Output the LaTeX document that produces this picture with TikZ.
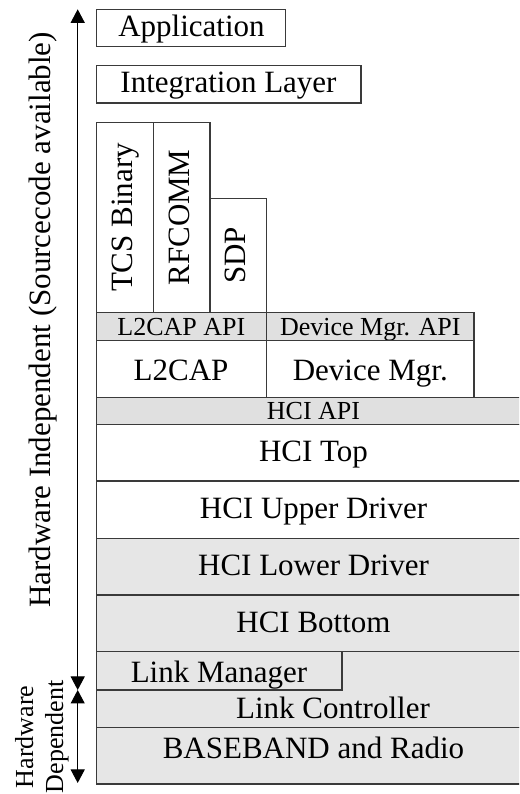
\documentclass[tikz,border=0pt]{standalone}
\usepackage{fontspec}
\setmainfont{Liberation Serif}
\usetikzlibrary{arrows.meta}

\definecolor{edge}{HTML}{3A3A3A}
\definecolor{hwgrey}{HTML}{E6E6E6}
\definecolor{apigrey}{HTML}{E0E0E0}

\tikzset{
  layer/.style={draw=edge, line width=1.3pt, fill=white},
  hwlayer/.style={layer, fill=hwgrey},
  apilayer/.style={layer, fill=apigrey},
  bigtxt/.style={font=\fontsize{31}{37}\selectfont, text height=20.5pt, text depth=0pt, inner sep=0pt},
  smalltxt/.style={font=\fontsize{26}{31}\selectfont, text height=17.2pt, text depth=0pt, inner sep=0pt},
  span/.style={line width=1pt, {Triangle[length=13.5pt,width=14pt]}-{Triangle[length=13.5pt,width=14pt]}}
}

\begin{document}
\begin{tikzpicture}[x=1pt,y=1pt]
\useasboundingbox (0,0) rectangle (519,794);
\clip (0,0) rectangle (519,794);

% upper application layers
\draw[layer] (96.5,747.3) rectangle (285.5,784.7);
\node[bigtxt] (app) at (191.5,768.2) {Application};
\draw[layer] (96.5,691) rectangle (361,728.3);
\node[bigtxt] (integ) at (228.5,711.5) {Integration Layer};

% protocol columns
\draw[layer] (96.5,481.3) rectangle (153.3,671.7);
\node[bigtxt, rotate=90] (tcs) at (122.5,576.5) {TCS Binary};
\draw[layer] (153.3,481.3) rectangle (210,671.7);
\node[bigtxt, rotate=90] (rfcomm) at (179.5,576.5) {RFCOMM};
\draw[layer] (210,481.3) rectangle (266.7,595.7);
\node[bigtxt, rotate=90] (sdp) at (235,538.5) {SDP};

% L2CAP and device manager
\draw[apilayer] (96.5,453.3) rectangle (266.7,481.3);
\node[smalltxt] (l2capapi) at (181.3,467.3) {L2CAP API};
\draw[apilayer] (266.7,453.3) rectangle (474,481.3);
\node[smalltxt] (devapi) at (370.3,467.3) {Device Mgr. API};
\draw[layer] (96.5,396.7) rectangle (266.7,453.3);
\node[bigtxt] (l2cap) at (181,423.8) {L2CAP};
\draw[layer] (266.7,396.7) rectangle (474,453.3);
\node[bigtxt] (devmgr) at (370.3,423.8) {Device Mgr.};

% host controller interface stack
\draw[apilayer] (96.5,369.5) rectangle (531,396.7);
\node[smalltxt] (hciapi) at (313.5,382.7) {HCI API};
\draw[layer] (96.5,313) rectangle (531,369.5);
\node[bigtxt] (hcitop) at (313.5,342.5) {HCI Top};
\draw[layer] (96.5,255.7) rectangle (531,313);
\node[bigtxt] (hciup) at (313.5,285.3) {HCI Upper Driver};
\draw[hwlayer] (96.5,199) rectangle (531,255.7);
\node[bigtxt] (hcilow) at (313.5,228.3) {HCI Lower Driver};
\draw[hwlayer] (96.5,142.3) rectangle (531,199);
\node[bigtxt] (hcibot) at (313.5,171.7) {HCI Bottom};

% controller side
\draw[hwlayer] (96.5,66.3) rectangle (531,142.3);
\node[bigtxt] (lc) at (333,85.5) {Link Controller};
\draw[hwlayer] (96.5,104) rectangle (342,142.3);
\node[bigtxt] (lm) at (219,122) {Link Manager};
\draw[hwlayer] (96.5,10) rectangle (531,66.3);
\node[bigtxt] (bb) at (313.5,45.3) {BASEBAND and Radio};

% extent arrows
\coordinate (indtop) at (77.7,784.7);
\coordinate (split) at (77.7,104);
\coordinate (depbot) at (77.7,11);
\draw[span] (split) -- (indtop);
\draw[span] (depbot) -- (split);

\node[font=\fontsize{31}{37}\selectfont, rotate=90, anchor=base, inner sep=0pt] (indlabel) at (50,474) {Hardware Independent (Sourcecode available)};
\node[font=\fontsize{26}{30}\selectfont, rotate=90, align=center, inner sep=0pt] (deplabel) at (41.8,57) {Hardware\\Dependent};
\end{tikzpicture}
\end{document}
